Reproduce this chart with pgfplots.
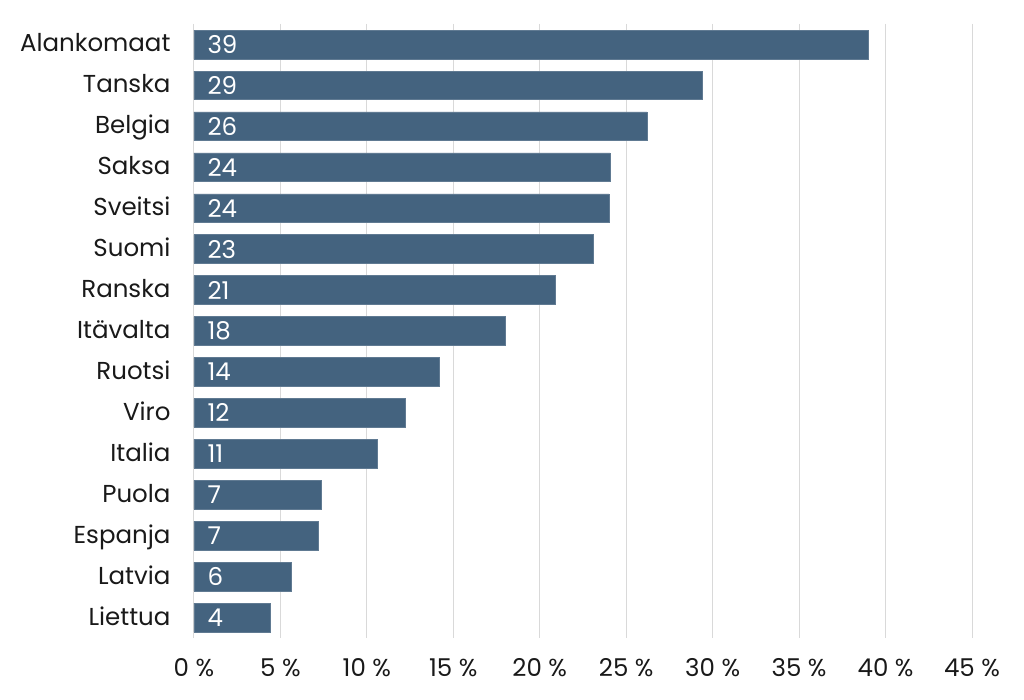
\documentclass[border=0pt]{standalone}
\usepackage{pgfplots}
\pgfplotsset{compat=1.18}
\usepackage{pgfplotstable}
\usepackage{fontspec}
\setmainfont{Poppins}
\definecolor{barblue}{HTML}{44637F}
\definecolor{gridgray}{HTML}{D9D9D9}
\pgfplotstableread[col sep=comma]{
y,val,lab,name
0,38.98,39,Alankomaat
1,29.4,29,Tanska
2,26.2,26,Belgia
3,24.06,24,Saksa
4,24.0,24,Sveitsi
5,23.1,23,Suomi
6,20.9,21,Ranska
7,18.0,18,Itävalta
8,14.2,14,Ruotsi
9,12.2,12,Viro
10,10.6,11,Italia
11,7.35,7,Puola
12,7.2,7,Espanja
13,5.6,6,Latvia
14,4.4,4,Liettua
}\datatable
\begin{document}
\begin{tikzpicture}
\path[use as bounding box] (-194pt,-62pt) rectangle (830pt,638pt);
\begin{axis}[
  at={(0,0)}, anchor=south west,
  scale only axis,
  width=778pt, height=614pt,
  xmin=0, xmax=45,
  ymin=-0.5, ymax=14.5,
  y dir=reverse,
  axis line style={draw=none},
  xtick={0,5,...,45},
  xticklabels={0 \%,5 \%,10 \%,15 \%,20 \%,25 \%,30 \%,35 \%,40 \%,45 \%},
  ytick={0,...,14},
  yticklabels from table={\datatable}{name},
  tick style={draw=none},
  xmajorgrids,
  major grid style={gridgray, line width=1pt},
  ticklabel style={font=\fontsize{24.5}{28}\selectfont, text=black!90},
  xticklabel style={yshift=-17pt},
  yticklabel style={xshift=-20pt, yshift=-5pt, text height=0.75em, text depth=0.25em},
  clip=false,
]
\addplot[xbar, bar width=28.7pt, fill=barblue, draw=barblue!85!white, line width=0.6pt]
  table[x=val, y=y] {\datatable};
\addplot[only marks, mark=none, nodes near coords, point meta=explicit symbolic,
  nodes near coords style={anchor=west, text=white, font=\fontsize{24.5}{28}\selectfont, xshift=10pt}]
  table[x expr=0, y=y, meta=lab] {\datatable};
\end{axis}
\end{tikzpicture}
\end{document}
